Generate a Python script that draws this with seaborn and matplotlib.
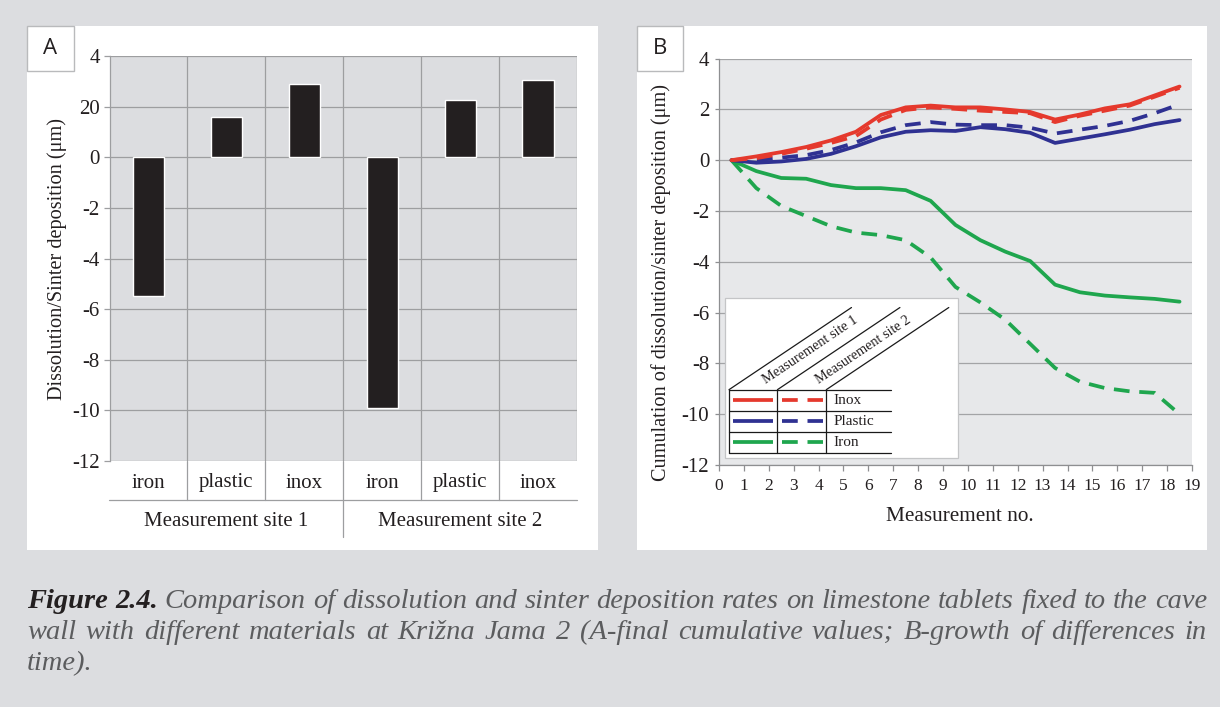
import numpy as np
import pandas as pd
import matplotlib
matplotlib.use("Agg")
import matplotlib.pyplot as plt
import matplotlib.transforms as mtransforms
from matplotlib.patches import Rectangle
from matplotlib.lines import Line2D
import seaborn as sns

# ---------------- data ----------------
# Panel A: final cumulative values
sites_a = ["Measurement site 1", "Measurement site 1", "Measurement site 1",
           "Measurement site 2", "Measurement site 2", "Measurement site 2"]
materials_a = ["iron", "plastic", "inox", "iron", "plastic", "inox"]
final_values = [-5.5, 1.6, 2.9, -9.9, 2.25, 3.05]
a_yticks = [4, 2, 0, -2, -4, -6, -8, -10, -12]
a_yticklabels = ["4", "20", "0", "-2", "-4", "-6", "-8", "-10", "-12"]

# Panel B: growth of differences in time
measurement_no = [0.5, 1.5, 2.5, 3.5, 4.5, 5.5, 6.5, 7.5, 8.5, 9.5,
                  10.5, 11.5, 12.5, 13.5, 14.5, 15.5, 16.5, 17.5, 18.5]
inox_site1 = [0.0, 0.15, 0.32, 0.52, 0.78, 1.12, 1.78, 2.08, 2.15, 2.08,
              2.08, 2.0, 1.9, 1.6, 1.8, 2.04, 2.2, 2.55, 2.9]
inox_site2 = [0.0, 0.08, 0.25, 0.45, 0.68, 0.95, 1.6, 1.98, 2.08, 2.02,
              1.95, 1.9, 1.85, 1.5, 1.75, 1.95, 2.15, 2.5, 2.85]
plastic_site1 = [0.0, -0.1, -0.05, 0.05, 0.25, 0.55, 0.9, 1.12, 1.18, 1.15,
                 1.3, 1.22, 1.08, 0.68, 0.85, 1.02, 1.2, 1.42, 1.58]
plastic_site2 = [0.0, 0.0, 0.1, 0.2, 0.4, 0.7, 1.1, 1.38, 1.5, 1.4,
                 1.38, 1.38, 1.28, 1.05, 1.2, 1.35, 1.55, 1.85, 2.2]
iron_site1 = [0.0, -0.43, -0.7, -0.73, -0.98, -1.1, -1.1, -1.18, -1.6, -2.55,
              -3.15, -3.6, -3.97, -4.9, -5.2, -5.33, -5.4, -5.46, -5.57]
iron_site2 = [0.0, -1.1, -1.8, -2.2, -2.6, -2.85, -2.95, -3.15, -3.83, -4.99,
              -5.6, -6.28, -7.23, -8.18, -8.72, -8.97, -9.1, -9.16, -10.0]
b_xticks = [0, 1, 2, 3, 4, 5, 6, 7, 8, 9, 10, 11, 12, 13, 14, 15, 16, 17, 18, 19]
b_yticks = [4, 2, 0, -2, -4, -6, -8, -10, -12]
b_yticklabels = ["4", "2", "0", "-2", "-4", "-6", "-8", "-10", "-12"]
b_materials = ["Inox", "Plastic", "Iron"]
b_sites = ["Measurement site 1", "Measurement site 2"]

caption_lines = [
    [("Figure 2.4.", "bold"), ("Comparison of dissolution and sinter deposition rates on limestone tablets fixed to the cave", "normal")],
    [("wall with different materials at Križna Jama 2 (A-final cumulative values; B-growth of differences in", "normal")],
    [("time).", "normal")],
]

# ---------------- style ----------------
BG = "#dcdde0"
TXT = "#231f20"
GRID = "#9d9ea0"
colors = {"Inox": "#e5392d", "Plastic": "#2f3192", "Iron": "#1fa64e"}
dash2 = (4.2, 2.6)

sns.set_theme(style="white")
plt.rcParams["font.family"] = ["Liberation Serif", "DejaVu Serif"]
plt.rcParams["text.color"] = TXT
plt.rcParams["axes.labelcolor"] = TXT
plt.rcParams["xtick.color"] = TXT
plt.rcParams["ytick.color"] = TXT

W, H = 1220, 707
fig = plt.figure(figsize=(W / 100, H / 100), dpi=100)
fig.patch.set_facecolor(BG)


def px_rect(x0, y0, x1, y1):
    return [x0 / W, 1 - y1 / H, (x1 - x0) / W, (y1 - y0) / H]


# white panels
for (x0, y0, x1, y1) in [(27, 26, 598, 550), (637, 26, 1207, 550)]:
    fig.add_artist(Rectangle((x0 / W, 1 - y1 / H), (x1 - x0) / W, (y1 - y0) / H,
                             transform=fig.transFigure, facecolor="white",
                             edgecolor="none", zorder=-5))
# letter boxes
for (x0, y0, x1, y1, letter) in [(27, 26, 74, 71, "A"), (637, 26, 683, 71, "B")]:
    fig.add_artist(Rectangle((x0 / W, 1 - y1 / H), (x1 - x0) / W, (y1 - y0) / H,
                             transform=fig.transFigure, facecolor="white",
                             edgecolor="#b9babc", lw=1.0, zorder=-4))
    fig.text((x0 + x1) / 2 / W, 1 - (y0 + y1) / 2 / H, letter, ha="center", va="center",
             fontsize=16, family=["Open Sans", "DejaVu Sans"], color=TXT)

# ---------------- Panel A ----------------
axA = fig.add_axes(px_rect(109.5, 56, 577, 461))
axA.set_facecolor(BG)
keys = [f"{s}|{m}" for s, m in zip(sites_a, materials_a)]
dfA = pd.DataFrame({"key": keys, "site": sites_a, "material": materials_a, "value": final_values})
sns.barplot(data=dfA, x="key", y="value", order=keys, color="#231f20", width=0.4,
            saturation=1, errorbar=None, ax=axA, zorder=3)
axA.set_xlim(-0.5, len(keys) - 0.5)
axA.set_ylim(-12, 4)
axA.set_yticks(a_yticks)
axA.set_yticklabels(a_yticklabels, fontsize=15)
axA.set_xticks(range(len(keys)))
axA.set_xticklabels(materials_a, fontsize=15)
axA.set_xticks([i + 0.5 for i in range(len(keys))], minor=True)
axA.tick_params(axis="x", which="both", length=0, pad=9)
axA.tick_params(axis="y", length=4, width=0.9, color=GRID, pad=3, left=True)
axA.yaxis.grid(True, color=GRID, lw=0.9)
axA.xaxis.grid(True, which="minor", color=GRID, lw=0.9)
axA.xaxis.grid(False, which="major")
axA.set_axisbelow(True)
for s in ["top", "right", "bottom"]:
    axA.spines[s].set_visible(False)
axA.spines["left"].set_color(GRID)
axA.spines["left"].set_linewidth(0.9)
axA.set_xlabel("")
axA.set_ylabel("Dissolution/Sinter deposition (μm)", fontsize=14.6, va="center")
axA.yaxis.set_label_coords(-0.111, 0.5)

transA = mtransforms.blended_transform_factory(axA.transData, axA.transAxes)
line_low = -39 / 405
axA.plot([-0.5, len(keys) - 0.5], [line_low, line_low], transform=transA,
         color=GRID, lw=0.9, clip_on=False)
for i in range(len(keys) - 1):
    bottom = -76 / 405 if i == 2 else line_low
    axA.plot([i + 0.5, i + 0.5], [0, bottom], transform=transA, color=GRID, lw=0.9, clip_on=False)
for gi, site in enumerate(dict.fromkeys(sites_a)):
    idx = [i for i, s in enumerate(sites_a) if s == site]
    axA.text(np.mean(idx), -60 / 405, site, transform=transA, ha="center", va="center",
             fontsize=15)

# ---------------- Panel B ----------------
axB = fig.add_axes(px_rect(719, 58.6, 1192, 465))
axB.set_facecolor("#e7e8ea")
series = {("Inox", "Measurement site 1"): inox_site1, ("Inox", "Measurement site 2"): inox_site2,
          ("Plastic", "Measurement site 1"): plastic_site1, ("Plastic", "Measurement site 2"): plastic_site2,
          ("Iron", "Measurement site 1"): iron_site1, ("Iron", "Measurement site 2"): iron_site2}
rows = []
for (mat, site), vals in series.items():
    for xv, yv in zip(measurement_no, vals):
        rows.append({"measurement": xv, "value": yv, "material": mat, "site": site})
dfB = pd.DataFrame(rows)
for mat in ["Iron", "Plastic", "Inox"]:
    sub = dfB[dfB.material == mat]
    sns.lineplot(data=sub, x="measurement", y="value", hue="material", style="site",
                 palette=colors, dashes={b_sites[0]: "", b_sites[1]: dash2},
                 lw=2.7, legend=False, estimator=None, sort=False, ax=axB, zorder=3)
axB.set_xlim(0, 19)
axB.set_ylim(-12, 4)
axB.set_xticks(b_xticks)
axB.set_xticklabels([str(v) for v in b_xticks], fontsize=12.5)
axB.set_yticks(b_yticks)
axB.set_yticklabels(b_yticklabels, fontsize=15)
axB.yaxis.grid(True, color="#a3a4a6", lw=0.9)
axB.xaxis.grid(False)
axB.set_axisbelow(True)
for s in ["top", "right"]:
    axB.spines[s].set_visible(False)
for s in ["left", "bottom"]:
    axB.spines[s].set_color("#8e8f91")
    axB.spines[s].set_linewidth(0.9)
axB.tick_params(axis="x", length=4.5, width=0.9, color="#8e8f91", pad=5, bottom=True)
axB.tick_params(axis="y", length=3, width=0.9, color="#8e8f91", pad=4, left=True)
axB.set_xlabel("Measurement no.", fontsize=15.3, va="center")
axB.xaxis.set_label_coords(0.51, -51.5 / 406.4)
axB.set_ylabel("Cumulation of dissolution/sinter deposition (μm)", fontsize=14.6, va="center")
axB.yaxis.set_label_coords(-0.1226, 0.45)

# legend table (axes fraction)
T = axB.transAxes
axB.add_patch(Rectangle((0.0137, 0.0172), 0.4916, 0.3938, transform=T, facecolor="white",
                        edgecolor="#c4c5c7", lw=0.9, zorder=6))
row_y = [0.1853, 0.1336, 0.0812, 0.0300]
col_x = [0.0211, 0.1235, 0.2268]
kw = dict(transform=T, color="#1a1a1a", lw=0.9, zorder=7, clip_on=False)
for yv in row_y:
    axB.add_line(Line2D([0.0211, 0.3636], [yv, yv], **kw))
for xv in col_x:
    axB.add_line(Line2D([xv, xv], [0.0300, 0.1853], **kw))
for xv in col_x:
    axB.add_line(Line2D([xv, xv + 0.259], [0.1853, 0.3875], **kw))
for site, fx in zip(b_sites, [0.1924, 0.3044]):
    axB.text(fx, 0.283, site, transform=T, rotation=33.9, rotation_mode="anchor",
             ha="center", va="center", fontsize=10.3, zorder=8)
for i, mat in enumerate(b_materials):
    yc = (row_y[i] + row_y[i + 1]) / 2
    axB.add_line(Line2D([0.0296, 0.1133], [yc, yc], transform=T, color=colors[mat],
                        lw=2.7, zorder=8, solid_capstyle="butt"))
    axB.add_line(Line2D([0.1332, 0.219], [yc, yc], transform=T, color=colors[mat],
                        lw=2.7, zorder=8, dashes=dash2, dash_capstyle="butt"))
    axB.text(0.2425, yc, mat, transform=T, ha="left", va="center", fontsize=11, zorder=8)

# ---------------- caption ----------------
renderer = fig.canvas.get_renderer()
baselines = [608, 639, 670]
x_left, x_right = 27, 1207


def make_words(segs):
    out = []
    for txt, weight in segs:
        for w in txt.split(" "):
            if w:
                out.append((w, weight))
    return out


def measure(words, size):
    arts, widths = [], []
    for w, weight in words:
        t = fig.text(0, 0, w, fontsize=size, style="italic", weight=weight,
                     color=(TXT if weight == "bold" else "#5b5c5e"), va="baseline", ha="left")
        arts.append(t)
        widths.append(t.get_window_extent(renderer).width)
    return arts, widths


cap_size = 20.5
# make sure the longest justified line still fits with normal word spacing
for segs in caption_lines[:-1]:
    words = make_words(segs)
    arts, widths = measure(words, cap_size)
    natural = sum(widths) + (len(words) - 1) * cap_size * 0.25 * 100 / 72
    for a in arts:
        a.remove()
    if natural > (x_right - x_left):
        cap_size *= (x_right - x_left) / natural

for li, segs in enumerate(caption_lines):
    words = make_words(segs)
    arts, widths = measure(words, cap_size)
    justify = li < len(caption_lines) - 1
    if justify and len(words) > 1:
        gap = (x_right - x_left - sum(widths)) / (len(words) - 1)
    else:
        gap = cap_size * 0.25 * 100 / 72
    x = x_left
    for t, wd in zip(arts, widths):
        t.set_position((x / W, 1 - baselines[li] / H))
        x += wd + gap

fig.savefig("out.png", dpi=100, facecolor=BG)
